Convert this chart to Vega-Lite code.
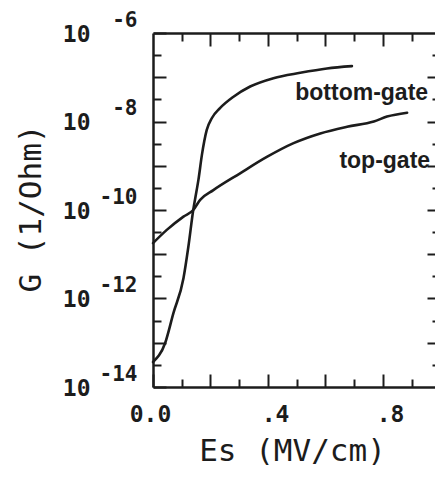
{
  "$schema": "https://vega.github.io/schema/vega-lite/v6.json",
  "width": 282,
  "height": 354,
  "autosize": {"type": "none"},
  "padding": {"left": 153, "top": 33, "right": 0, "bottom": 99},
  "background": "white",
  "config": {
    "view": {"stroke": null},
    "axis": {
      "grid": false,
      "domainColor": "#1c1c1c",
      "domainWidth": 2.5,
      "tickColor": "#1c1c1c",
      "tickWidth": 2,
      "labelColor": "#1c1c1c",
      "titleColor": "#1c1c1c",
      "labelFont": "DejaVu Sans Mono",
      "labelFontWeight": "bold",
      "labelFontSize": 23,
      "titleFont": "DejaVu Sans Mono",
      "titleFontWeight": "normal",
      "titleFontSize": 31,
      "labelOverlap": false,
      "labelFlush": false,
      "labelBound": false
    }
  },
  "datasets": {
    "curves": [
      {"Es": 0.0, "G": 3.67e-14, "gate": "bottom-gate"},
      {"Es": 0.042, "G": 9.77e-14, "gate": "bottom-gate"},
      {"Es": 0.071, "G": 4.68e-13, "gate": "bottom-gate"},
      {"Es": 0.106, "G": 2.88e-12, "gate": "bottom-gate"},
      {"Es": 0.123, "G": 1.48e-11, "gate": "bottom-gate"},
      {"Es": 0.14, "G": 1.0e-10, "gate": "bottom-gate"},
      {"Es": 0.152, "G": 2.82e-10, "gate": "bottom-gate"},
      {"Es": 0.158, "G": 4.79e-10, "gate": "bottom-gate"},
      {"Es": 0.17, "G": 1.74e-9, "gate": "bottom-gate"},
      {"Es": 0.187, "G": 6.46e-9, "gate": "bottom-gate"},
      {"Es": 0.205, "G": 1.2e-8, "gate": "bottom-gate"},
      {"Es": 0.233, "G": 2.0e-8, "gate": "bottom-gate"},
      {"Es": 0.28, "G": 3.63e-8, "gate": "bottom-gate"},
      {"Es": 0.338, "G": 6.17e-8, "gate": "bottom-gate"},
      {"Es": 0.419, "G": 9.55e-8, "gate": "bottom-gate"},
      {"Es": 0.512, "G": 1.26e-7, "gate": "bottom-gate"},
      {"Es": 0.605, "G": 1.58e-7, "gate": "bottom-gate"},
      {"Es": 0.692, "G": 1.78e-7, "gate": "bottom-gate"},
      {"Es": 0.0, "G": 1.78e-11, "gate": "top-gate"},
      {"Es": 0.048, "G": 3.55e-11, "gate": "top-gate"},
      {"Es": 0.106, "G": 7.08e-11, "gate": "top-gate"},
      {"Es": 0.14, "G": 1.0e-10, "gate": "top-gate"},
      {"Es": 0.164, "G": 1.7e-10, "gate": "top-gate"},
      {"Es": 0.21, "G": 2.82e-10, "gate": "top-gate"},
      {"Es": 0.303, "G": 6.76e-10, "gate": "top-gate"},
      {"Es": 0.396, "G": 1.58e-9, "gate": "top-gate"},
      {"Es": 0.489, "G": 3.24e-9, "gate": "top-gate"},
      {"Es": 0.582, "G": 5.37e-9, "gate": "top-gate"},
      {"Es": 0.675, "G": 7.59e-9, "gate": "top-gate"},
      {"Es": 0.768, "G": 1.0e-8, "gate": "top-gate"},
      {"Es": 0.814, "G": 1.29e-8, "gate": "top-gate"},
      {"Es": 0.884, "G": 1.58e-8, "gate": "top-gate"}
    ],
    "notes": [
      {"Es": 0.957, "G": 3.06e-8, "label": "bottom-gate"},
      {"Es": 0.964, "G": 8.9e-10, "label": "top-gate"}
    ]
  },
  "layer": [
    {
      "data": {"name": "curves"},
      "mark": {"type": "line", "color": "#1c1c1c", "strokeWidth": 2.6, "interpolate": "monotone", "strokeCap": "round"},
      "encoding": {
        "x": {
          "field": "Es", "type": "quantitative",
          "scale": {"domain": [0, 0.981], "nice": false, "zero": false},
          "axis": {
            "orient": "bottom",
            "title": "Es (MV/cm)",
            "values": [0, 0.1, 0.2, 0.3, 0.4, 0.5, 0.6, 0.7, 0.8, 0.9],
            "tickSize": {"condition": {"test": "abs(datum.value*5 - round(datum.value*5)) < 0.01", "value": -13}, "value": -8},
            "labelExpr": "datum.value < 0.01 ? '0.0' : (abs(datum.value*2.5 - round(datum.value*2.5)) < 0.01 ? '.' + round(datum.value*10) : '')",
            "labelBaseline": "top",
            "labelPadding": 29,
            "labelOffset": {"condition": {"test": "datum.value < 0.01", "value": -3}, "value": 7},
            "titleX": 139,
            "titleY": 73,
            "titleAlign": "center",
            "titleBaseline": "alphabetic"
          }
        },
        "y": {
          "field": "G", "type": "quantitative",
          "scale": {"type": "log", "domain": [1e-14, 1e-6], "nice": false},
          "axis": {
            "orient": "left",
            "title": "G (1/Ohm)",
            "values": [1e-14, 3.1623e-14, 1e-13, 3.1623e-13, 1e-12, 3.1623e-12, 1e-11, 3.1623e-11, 1e-10, 3.1623e-10, 1e-9, 3.1623e-9, 1e-8, 3.1623e-8, 1e-7, 3.1623e-7, 1e-6],
            "tickSize": {"condition": {"test": "abs(log(datum.value)/LN10 - round(log(datum.value)/LN10)) < 0.01", "value": -13}, "value": -8},
            "labelExpr": "(abs(log(datum.value)/LN10 - round(log(datum.value)/LN10)) < 0.01 && round(log(datum.value)/LN10) % 2 == 0) ? '10' : ''",
            "labelAlign": "right",
            "labelBaseline": "middle",
            "labelOffset": 1,
            "labelPadding": 76,
            "titleAngle": 270,
            "titleX": -113,
            "titleY": 175,
            "titleAlign": "center",
            "titleBaseline": "alphabetic"
          }
        },
        "detail": {"field": "gate", "type": "nominal"}
      }
    },
    {
      "data": {"name": "curves"},
      "mark": {"type": "line", "opacity": 0},
      "encoding": {
        "x": {
          "field": "Es", "type": "quantitative",
          "axis": {
            "orient": "top",
            "title": null,
            "labels": false,
            "values": [0.1, 0.2, 0.3, 0.4, 0.5, 0.6, 0.7, 0.8, 0.9],
            "tickSize": {"condition": {"test": "abs(datum.value*5 - round(datum.value*5)) < 0.01", "value": -13}, "value": -8}
          }
        },
        "y": {
          "field": "G", "type": "quantitative",
          "axis": {
            "orient": "right",
            "title": null,
            "labels": false,
            "domain": false,
            "values": [3.1623e-14, 1e-13, 3.1623e-13, 1e-12, 3.1623e-12, 1e-11, 3.1623e-11, 1e-10, 3.1623e-10, 1e-9, 3.1623e-9, 1e-8, 3.1623e-8, 1e-7, 3.1623e-7],
            "tickSize": {"condition": {"test": "abs(log(datum.value)/LN10 - round(log(datum.value)/LN10)) < 0.01", "value": -8}, "value": -3}
          }
        },
        "detail": {"field": "gate", "type": "nominal"}
      }
    },
    {
      "data": {"name": "curves"},
      "mark": {"type": "line", "opacity": 0},
      "encoding": {
        "x": {"field": "Es", "type": "quantitative", "axis": null},
        "y": {
          "field": "G", "type": "quantitative",
          "axis": {
            "orient": "left",
            "title": null,
            "domain": false,
            "ticks": false,
            "values": [1e-14, 1e-12, 1e-10, 1e-8, 1e-6],
            "labelExpr": "'-' + abs(round(log(datum.value)/LN10))",
            "labelFontSize": 21,
            "labelAlign": "right",
            "labelBaseline": "middle",
            "labelOffset": -13,
            "labelPadding": 16
          }
        },
        "detail": {"field": "gate", "type": "nominal"}
      }
    },
    {
      "data": {"name": "notes"},
      "mark": {"type": "text", "font": "Liberation Sans", "fontWeight": "bold", "fontSize": 23, "align": "right", "baseline": "alphabetic", "color": "#1c1c1c"},
      "encoding": {
        "x": {"field": "Es", "type": "quantitative", "axis": null},
        "y": {"field": "G", "type": "quantitative", "axis": null},
        "text": {"field": "label", "type": "nominal"}
      }
    }
  ],
  "resolve": {"axis": {"x": "independent", "y": "independent"}}
}
